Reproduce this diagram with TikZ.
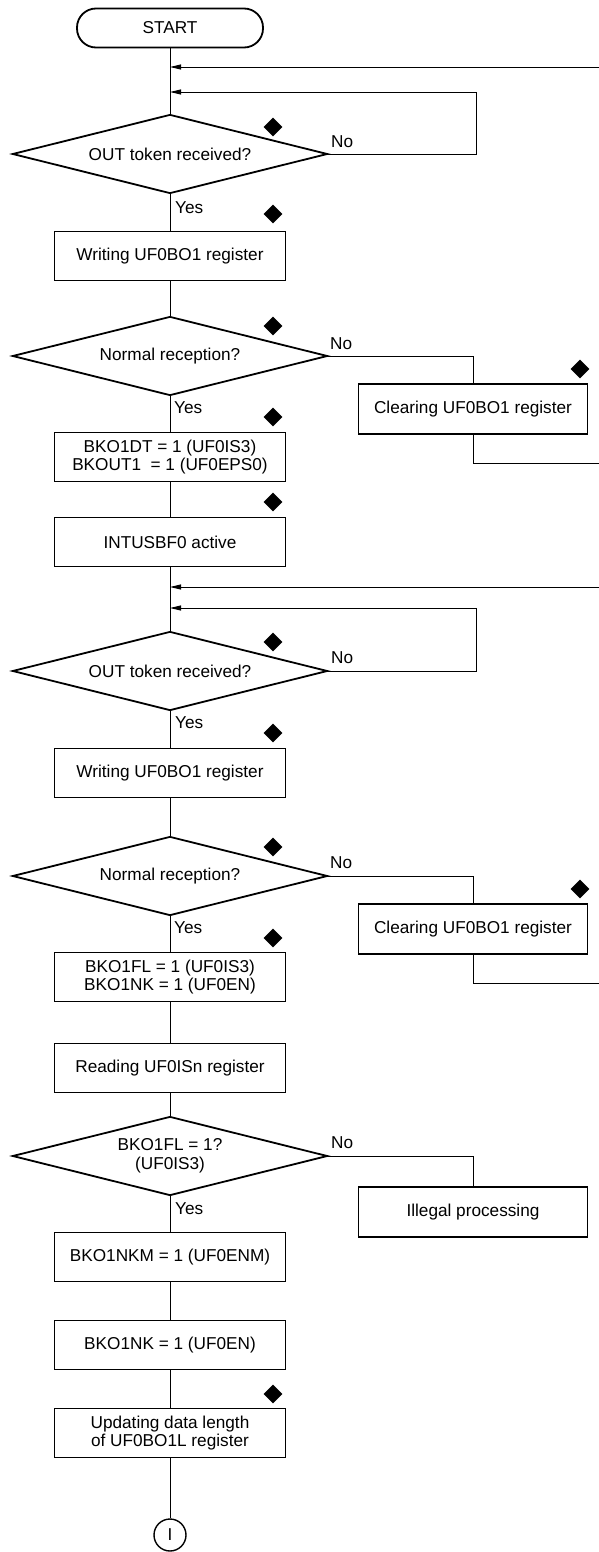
\documentclass[tikz,border=0pt]{standalone}
\usepackage{fontspec}
\setmainfont{Liberation Sans}
\usetikzlibrary{arrows.meta,positioning,shapes.geometric}
\newcommand{\flowfont}{\fontsize{17.2}{18.5}\selectfont}

\begin{document}
\begin{tikzpicture}[x=1pt,y=-1pt,
			term/.style={draw, line width=1.8pt, rounded corners=19pt, minimum width=186pt,
				minimum height=39pt, inner sep=0pt, font=\flowfont},
			proc/.style={draw, line width=1.8pt, minimum width=231pt, minimum height=49pt,
				inner sep=0pt, align=center, font=\flowfont},
			side/.style={proc, minimum width=229pt, minimum height=50pt},
			dec/.style={diamond, draw, line width=1.8pt, aspect=4, minimum width=315pt,
				minimum height=79pt, inner sep=0pt, align=center, font=\flowfont},
			conn/.style={circle, draw, line width=1.4pt, minimum size=32pt, inner sep=0pt, font=\flowfont},
			flag/.style={diamond, fill=black, minimum size=19pt, inner sep=0pt},
			lbl/.style={font=\flowfont, inner sep=0pt, anchor=west},
			ln/.style={-, line width=0.9pt},
			back/.style={ln, -{Triangle[length=11pt,width=5pt]}}
			]
			\useasboundingbox (0,0) rectangle (599,1552);
			% first pass
			\node[term] (start) at (170,28) {START};
			\coordinate (j0) at (170,67);
			\coordinate (j1) at (170,92);
			\coordinate (r0) at (599,67);
			\node[dec]  (d1) at (170,154) {OUT token received?};
			\node[proc] (w1) at (170,256) {Writing UF0BO1 register};
			\node[dec]  (d2) at (170,356) {Normal reception?};
			\node[side] (c1) at (473,409) {Clearing UF0BO1 register};
			\coordinate (r1) at (599,463);
			\node[proc] (s1) at (170,457) {BKO1DT = 1 (UF0IS3)\\ BKOUT1\ \ = 1 (UF0EPS0)};
			\node[proc] (a1) at (170,542) {INTUSBF0 active};
			% second pass
			\coordinate (j2) at (170,587);
			\coordinate (j3) at (170,608);
			\coordinate (r2) at (599,587);
			\node[dec]  (d3) at (170,671) {OUT token received?};
			\node[proc] (w2) at (170,773) {Writing UF0BO1 register};
			\node[dec]  (d4) at (170,876) {Normal reception?};
			\node[side] (c2) at (473,929) {Clearing UF0BO1 register};
			\coordinate (r3) at (599,983);
			\node[proc] (s2) at (170,977) {BKO1FL = 1 (UF0IS3)\\ BKO1NK = 1 (UF0EN)};
			\node[proc] (rd) at (170,1068) {Reading UF0ISn register};
			\node[dec]  (d5) at (170,1156) {BKO1FL = 1?\\ (UF0IS3)};
			\node[side] (il) at (473,1212) {Illegal processing};
			\node[proc] (k1) at (170,1257) {BKO1NKM = 1 (UF0ENM)};
			\node[proc] (k2) at (170,1345) {BKO1NK = 1 (UF0EN)};
			\node[proc] (up) at (170,1433) {Updating data length\\ of UF0BO1L register};
			\node[conn] (cn) at (170,1535) {I};
			% branch labels
			\node[lbl] (no1) at (331,142) {No};
			\node[lbl] (ye1) at (175,208) {Yes};
			\node[lbl] (no2) at (330,344) {No};
			\node[lbl] (ye2) at (174,408) {Yes};
			\node[lbl] (no3) at (331,658) {No};
			\node[lbl] (ye3) at (175,723) {Yes};
			\node[lbl] (no4) at (330,863) {No};
			\node[lbl] (ye4) at (174,928) {Yes};
			\node[lbl] (no5) at (331,1143) {No};
			\node[lbl] (ye5) at (175,1209) {Yes};
			% markers
			\node[flag] (m1)  at (273,127) {};
			\node[flag] (m2)  at (273,214) {};
			\node[flag] (m3)  at (273,326) {};
			\node[flag] (m4)  at (580,369) {};
			\node[flag] (m5)  at (273,417) {};
			\node[flag] (m6)  at (273,502) {};
			\node[flag] (m7)  at (273,642) {};
			\node[flag] (m8)  at (273,733) {};
			\node[flag] (m9)  at (273,847) {};
			\node[flag] (m10) at (580,889) {};
			\node[flag] (m11) at (273,938) {};
			\node[flag] (m12) at (273,1394) {};
			% main column
			\draw[ln] (start) -- (d1); \draw[ln] (d1) -- (w1); \draw[ln] (w1) -- (d2);
			\draw[ln] (d2) -- (s1); \draw[ln] (s1) -- (a1); \draw[ln] (a1) -- (d3);
			\draw[ln] (d3) -- (w2); \draw[ln] (w2) -- (d4); \draw[ln] (d4) -- (s2);
			\draw[ln] (s2) -- (rd); \draw[ln] (rd) -- (d5); \draw[ln] (d5) -- (k1);
			\draw[ln] (k1) -- (k2); \draw[ln] (k2) -- (up); \draw[ln] (up) -- (cn);
			% No branches and returns
			\draw[back] (r0) -- (j0);
			\draw[back] (d1.east) -- ++(148,0) |- (j1);
			\draw[ln] (d2.east) -| (c1.north); \draw[ln] (c1.south) |- (r1);
			\draw[back] (r2) -- (j2);
			\draw[back] (d3.east) -- ++(148,0) |- (j3);
			\draw[ln] (d4.east) -| (c2.north); \draw[ln] (c2.south) |- (r3);
			\draw[ln] (d5.east) -| (il.north);
	\end{tikzpicture}
\end{document}
